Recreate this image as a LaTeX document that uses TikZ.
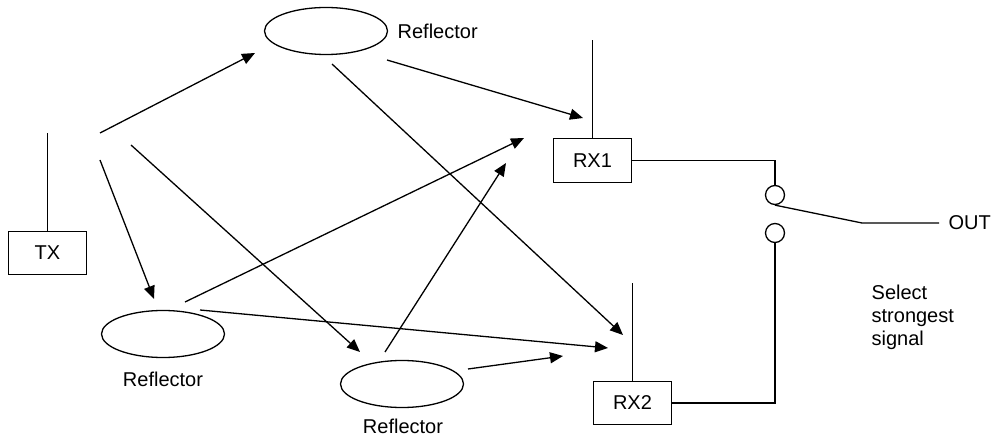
\documentclass[tikz,border=0pt]{standalone}
\usepackage{fontspec}
\setmainfont{Liberation Sans}
\usetikzlibrary{arrows.meta,shapes.geometric}
\begin{document}
\begin{tikzpicture}[x=1pt,y=-1pt, line width=1.3pt,
 refl/.style={draw, ellipse, minimum width=123pt, minimum height=47pt, inner sep=0pt},
 unit/.style={draw, rectangle, minimum width=78pt, minimum height=43pt, inner sep=0pt, font=\fontsize{20}{24}\selectfont},
 lbl/.style={inner sep=0pt, font=\fontsize{20}{23}\selectfont},
 contact/.style={draw, circle, minimum size=19pt, inner sep=0pt},
 ray/.style={-{Triangle[length=13pt,width=11pt]}}]
\useasboundingbox (0,0) rectangle (1001,438);
% units
\node[unit] (tx) at (47.5,253) {TX};
\node[unit, minimum height=44pt] (rx1) at (592.5,160.5) {RX1};
\node[unit] (rx2) at (632.5,403) {RX2};
% reflectors
\node[refl] (e1) at (326,31) {};
\node[refl] (e2) at (163,334) {};
\node[refl] (e3) at (402,384) {};
\node[lbl, anchor=west] (l1) at (397,31) {Reflector};
\node[lbl] (l2) at (163,379) {Reflector};
\node[lbl] (l3) at (403,426) {Reflector};
% switch
\node[contact] (s1) at (775,195) {};
\node[contact] (s2) at (775,233) {};
\node[lbl, anchor=west] (out) at (948,223) {OUT};
\node[lbl, anchor=north west, align=left] (sel) at (871,284) {Select\\strongest\\signal};
% antennas
\coordinate (txa) at (47.5,133);
\coordinate (rx1a) at (592.5,40);
\coordinate (rx2a) at (632.5,283);
\draw (tx.north) -- (txa);
\draw (rx1.north) -- (rx1a);
\draw (rx2.north) -- (rx2a);
% wires
\draw (rx1.east) -| (s1.north);
\draw (rx2.east) -| (s2.south);
\coordinate (bend) at (862,223);
\coordinate (oute) at (939,223);
\draw (s1.south) -- (bend) -- (oute);
% rays
\coordinate (a1s) at (100,133); \coordinate (a1e) at (255,53);
\coordinate (a2s) at (131,145); \coordinate (a2e) at (360,352);
\coordinate (a3s) at (100,160); \coordinate (a3e) at (154,299);
\coordinate (a4s) at (387,60);  \coordinate (a4e) at (583,118);
\coordinate (a5s) at (332,64);  \coordinate (a5e) at (623,335);
\coordinate (a6s) at (185,302); \coordinate (a6e) at (524,138);
\coordinate (a7s) at (200,310); \coordinate (a7e) at (608,348);
\coordinate (a8s) at (385,352); \coordinate (a8e) at (506,163);
\coordinate (a9s) at (468,369); \coordinate (a9e) at (563,356);
\foreach \i in {1,...,9} {\draw[ray] (a\i s) -- (a\i e);}
\end{tikzpicture}
\end{document}
